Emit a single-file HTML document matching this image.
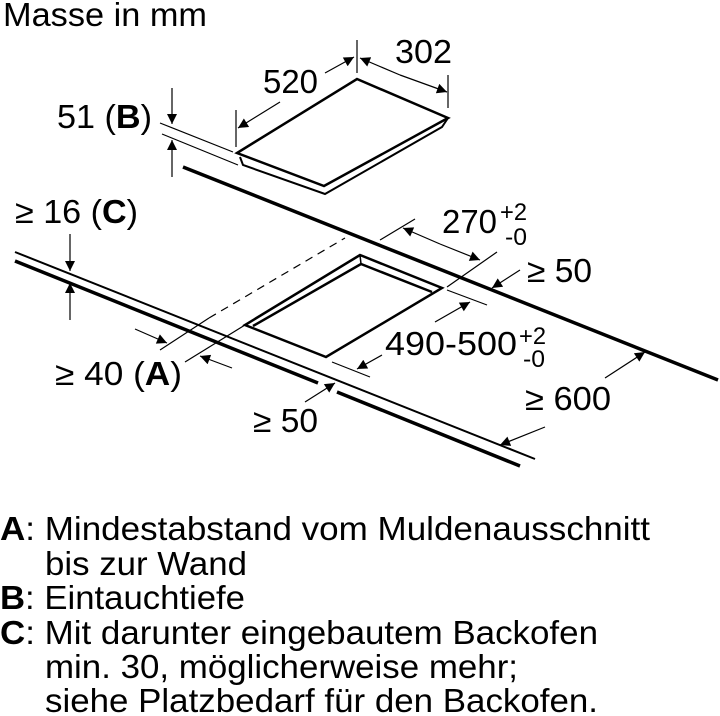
<!DOCTYPE html>
<html><head><meta charset="utf-8"><style>
html,body{margin:0;padding:0;background:#fff;}
svg{display:block;}
text{font-family:"Liberation Sans",sans-serif;fill:#000;}
</style></head><body>
<svg width="720" height="716" viewBox="0 0 720 716" xmlns="http://www.w3.org/2000/svg">
<defs>
<marker id="ah" viewBox="0 0 10 10" refX="10" refY="5" markerWidth="14" markerHeight="10" markerUnits="userSpaceOnUse" orient="auto">
<path d="M0,0 L10,5 L0,10 z" fill="#000"/>
</marker>
</defs>
<g font-size="33">
<text x="3" y="26" textLength="204" lengthAdjust="spacingAndGlyphs">Masse in mm</text>
<text x="57" y="128" textLength="95" lengthAdjust="spacingAndGlyphs">51 (<tspan font-weight="bold">B</tspan>)</text>
<text x="263" y="93" textLength="55" lengthAdjust="spacingAndGlyphs">520</text>
<text x="395" y="63" textLength="57" lengthAdjust="spacingAndGlyphs">302</text>
<text x="15" y="223" textLength="123" lengthAdjust="spacingAndGlyphs">≥ 16 (<tspan font-weight="bold">C</tspan>)</text>
<text x="442" y="233" textLength="55" lengthAdjust="spacingAndGlyphs">270</text>
<text x="527" y="282" textLength="65" lengthAdjust="spacingAndGlyphs">≥ 50</text>
<text x="385" y="355" textLength="132" lengthAdjust="spacingAndGlyphs">490-500</text>
<text x="55" y="385" textLength="127" lengthAdjust="spacingAndGlyphs">≥ 40 (<tspan font-weight="bold">A</tspan>)</text>
<text x="253" y="432" textLength="65" lengthAdjust="spacingAndGlyphs">≥ 50</text>
<text x="525" y="410" textLength="86" lengthAdjust="spacingAndGlyphs">≥ 600</text>
</g>
<g font-size="24">
<text x="500" y="220" textLength="27" lengthAdjust="spacingAndGlyphs">+2</text>
<text x="505" y="245" textLength="22" lengthAdjust="spacingAndGlyphs">-0</text>
<text x="519" y="344" textLength="27" lengthAdjust="spacingAndGlyphs">+2</text>
<text x="523" y="367" textLength="22" lengthAdjust="spacingAndGlyphs">-0</text>
</g>
<g stroke="#000" fill="none" stroke-linecap="butt">
<polygon points="357,79 448,118 324,186 237,153" stroke-width="2.5" fill="#fff"/>
<polyline points="240,157 243,165 325,194 442,127 448,118" stroke-width="2"/>
<line x1="357" y1="40" x2="357" y2="73" stroke-width="1.2"/>
<line x1="448" y1="75" x2="448" y2="108" stroke-width="1.2"/>
<line x1="236" y1="110" x2="236" y2="147" stroke-width="1.2"/>
<line x1="400" y1="75" x2="360" y2="58" stroke-width="1.2" marker-end="url(#ah)"/>
<line x1="400" y1="75" x2="447" y2="92" stroke-width="1.2" marker-end="url(#ah)"/>
<line x1="325" y1="73" x2="354" y2="57" stroke-width="1.2" marker-end="url(#ah)"/>
<line x1="280" y1="102" x2="238" y2="128" stroke-width="1.2" marker-end="url(#ah)"/>
<line x1="172" y1="88" x2="172" y2="124" stroke-width="1.2" marker-end="url(#ah)"/>
<line x1="172" y1="177" x2="172" y2="140" stroke-width="1.2" marker-end="url(#ah)"/>
<line x1="160" y1="123" x2="233" y2="152" stroke-width="1.2"/>
<line x1="162" y1="134" x2="238" y2="165" stroke-width="1.2"/>
<line x1="183" y1="167" x2="718" y2="380" stroke-width="3.5"/>
<line x1="15" y1="252" x2="535" y2="459" stroke-width="2"/>
<line x1="15" y1="261" x2="318" y2="383" stroke-width="3.5"/>
<line x1="337" y1="392" x2="520" y2="466" stroke-width="3.5"/>
<line x1="70" y1="234" x2="70" y2="271" stroke-width="1.2" marker-end="url(#ah)"/>
<line x1="70" y1="320" x2="70" y2="283" stroke-width="1.2" marker-end="url(#ah)"/>
<polygon points="360,255 442,288 326,357 245,325" stroke-width="2.5" fill="#fff"/>
<polyline points="253,326 361,264 432,292" stroke-width="2.5"/>
<line x1="360" y1="255" x2="361" y2="264" stroke-width="1.5"/>
<line x1="160" y1="350" x2="209" y2="318" stroke-width="1.2"/>
<line x1="209" y1="318" x2="345" y2="238" stroke-width="1.2" stroke-dasharray="8,6"/>
<line x1="185" y1="362" x2="245" y2="325" stroke-width="1.2"/>
<line x1="380" y1="240" x2="415" y2="219" stroke-width="1.2"/>
<line x1="447" y1="287" x2="497" y2="252" stroke-width="1.2"/>
<line x1="447" y1="290" x2="487" y2="305" stroke-width="1.2"/>
<line x1="332" y1="362" x2="370" y2="377" stroke-width="1.2"/>
<line x1="440" y1="244" x2="403" y2="228" stroke-width="1.2" marker-end="url(#ah)"/>
<line x1="440" y1="244" x2="480" y2="260" stroke-width="1.2" marker-end="url(#ah)"/>
<line x1="520" y1="270" x2="492" y2="288" stroke-width="1.2" marker-end="url(#ah)"/>
<line x1="435" y1="322" x2="470" y2="302" stroke-width="1.2" marker-end="url(#ah)"/>
<line x1="382" y1="355" x2="357" y2="369" stroke-width="1.2" marker-end="url(#ah)"/>
<line x1="135" y1="329" x2="167" y2="343" stroke-width="1.2" marker-end="url(#ah)"/>
<line x1="232" y1="368" x2="200" y2="356" stroke-width="1.2" marker-end="url(#ah)"/>
<line x1="305" y1="402" x2="335" y2="383" stroke-width="1.2" marker-end="url(#ah)"/>
<line x1="545" y1="427" x2="500" y2="445" stroke-width="1.2" marker-end="url(#ah)"/>
<line x1="605" y1="378" x2="645" y2="352" stroke-width="1.2" marker-end="url(#ah)"/>
</g>
<g font-size="33">
<text x="0" y="540" textLength="650" lengthAdjust="spacingAndGlyphs"><tspan font-weight="bold">A</tspan>: Mindestabstand vom Muldenausschnitt</text>
<text x="45" y="575" textLength="202" lengthAdjust="spacingAndGlyphs">bis zur Wand</text>
<text x="0" y="609" textLength="245" lengthAdjust="spacingAndGlyphs"><tspan font-weight="bold">B</tspan>: Eintauchtiefe</text>
<text x="0" y="644" textLength="598" lengthAdjust="spacingAndGlyphs"><tspan font-weight="bold">C</tspan>: Mit darunter eingebautem Backofen</text>
<text x="45" y="678" textLength="473" lengthAdjust="spacingAndGlyphs">min. 30, möglicherweise mehr;</text>
<text x="45" y="712" textLength="553" lengthAdjust="spacingAndGlyphs">siehe Platzbedarf für den Backofen.</text>
</g>
</svg>
</body></html>
